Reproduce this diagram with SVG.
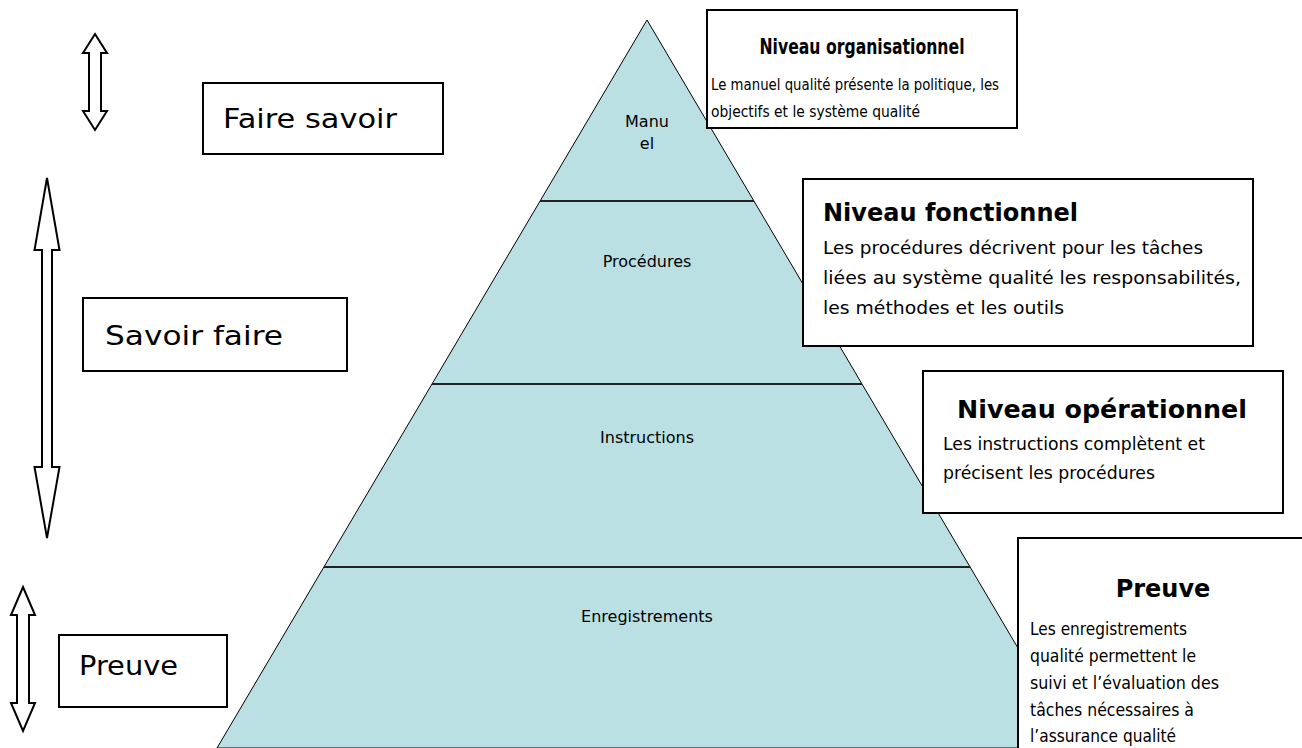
<svg xmlns="http://www.w3.org/2000/svg" width="1302" height="748" viewBox="0 0 1302 748">
<style>
text{font-family:"DejaVu Sans","Liberation Sans",sans-serif;fill:#000}
.box{fill:#fff;stroke:#000;stroke-width:2}
.arrow{fill:#fff;stroke:#000;stroke-width:2;stroke-linejoin:miter}
.lbl{font-size:26px}
.pl{font-size:16px;text-anchor:middle}
.tt{font-size:24px;font-weight:bold}
.bd{font-size:17px}
.sm{font-size:15.5px}
.smt{font-size:21px;font-weight:bold}
.sep{stroke:#222;stroke-width:2}
</style>
<defs>
<clipPath id="orgclip"><rect x="707" y="10" width="310" height="110"/></clipPath>
</defs>
<g id="pyramid">
<polygon points="647,20 217,748 1077,748" fill="#BBE0E3" stroke="#000" stroke-width="1"/>
<line class="sep" x1="540" y1="201" x2="754" y2="201"/>
<line class="sep" x1="432" y1="384" x2="862" y2="384"/>
<line class="sep" x1="324" y1="567" x2="970" y2="567"/>
<text class="pl" x="647" y="127">Manu</text>
<text class="pl" x="647" y="149">el</text>
<text class="pl" x="647" y="267">Procédures</text>
<text class="pl" x="647" y="443">Instructions</text>
<text class="pl" x="647" y="622">Enregistrements</text>
</g>
<g id="arrows">
<polygon class="arrow" points="95,34 107,53 101,53 101,111 107,111 95,130 83,111 89,111 89,53 83,53"/>
<polygon class="arrow" points="47,178 59.5,250 52,250 52,467 59.5,467 47,538 34.5,467 42,467 42,250 34.5,250"/>
<polygon class="arrow" points="23,587 35,615 29,615 29,703 35,703 23,731 11,703 17,703 17,615 11,615"/>
</g>
<g id="faire-savoir">
<rect class="box" x="203" y="83" width="240" height="71"/>
<text class="lbl" x="223" y="128" textLength="174" lengthAdjust="spacingAndGlyphs">Faire savoir</text>
</g>
<g id="savoir-faire">
<rect class="box" x="83" y="298" width="264" height="73"/>
<text class="lbl" x="105" y="345" textLength="178" lengthAdjust="spacingAndGlyphs">Savoir faire</text>
</g>
<g id="preuve-left">
<rect class="box" x="59" y="635" width="168" height="72"/>
<text class="lbl" x="79" y="675" textLength="99" lengthAdjust="spacingAndGlyphs">Preuve</text>
</g>
<g id="niveau-organisationnel">
<rect class="box" x="707" y="10" width="310" height="118"/>
<text class="smt" x="862" y="54" text-anchor="middle" textLength="205" lengthAdjust="spacingAndGlyphs">Niveau organisationnel</text>
<g clip-path="url(#orgclip)">
<text class="sm" x="711" y="90" textLength="288" lengthAdjust="spacingAndGlyphs">Le manuel qualité présente la politique, les</text>
<text class="sm" x="711" y="117" textLength="209" lengthAdjust="spacingAndGlyphs">objectifs et le système qualité</text>
</g>
</g>
<g id="niveau-fonctionnel">
<rect class="box" x="803" y="179" width="450" height="167"/>
<text class="tt" x="823" y="221" textLength="255" lengthAdjust="spacingAndGlyphs">Niveau fonctionnel</text>
<text class="bd" x="823" y="254" textLength="380" lengthAdjust="spacingAndGlyphs">Les procédures décrivent pour les tâches</text>
<text class="bd" x="823" y="284" textLength="418" lengthAdjust="spacingAndGlyphs">liées au système qualité les responsabilités,</text>
<text class="bd" x="823" y="314" textLength="241" lengthAdjust="spacingAndGlyphs">les méthodes et les outils</text>
</g>
<g id="niveau-operationnel">
<rect class="box" x="923" y="371" width="360" height="142"/>
<text class="tt" x="957" y="418" textLength="290" lengthAdjust="spacingAndGlyphs">Niveau opérationnel</text>
<text class="bd" x="943" y="450" textLength="262" lengthAdjust="spacingAndGlyphs">Les instructions complètent et</text>
<text class="bd" x="943" y="479" textLength="212" lengthAdjust="spacingAndGlyphs">précisent les procédures</text>
</g>
<g id="preuve-right">
<rect class="box" x="1018" y="538" width="290" height="220"/>
<text class="tt" x="1163" y="597" text-anchor="middle">Preuve</text>
<text class="bd" x="1030" y="635" textLength="157" lengthAdjust="spacingAndGlyphs">Les enregistrements</text>
<text class="bd" x="1030" y="662" textLength="166" lengthAdjust="spacingAndGlyphs">qualité permettent le</text>
<text class="bd" x="1030" y="689" textLength="189" lengthAdjust="spacingAndGlyphs">suivi et l’évaluation des</text>
<text class="bd" x="1030" y="716" textLength="164" lengthAdjust="spacingAndGlyphs">tâches nécessaires à</text>
<text class="bd" x="1030" y="742" textLength="146" lengthAdjust="spacingAndGlyphs">l’assurance qualité</text>
</g>
</svg>
